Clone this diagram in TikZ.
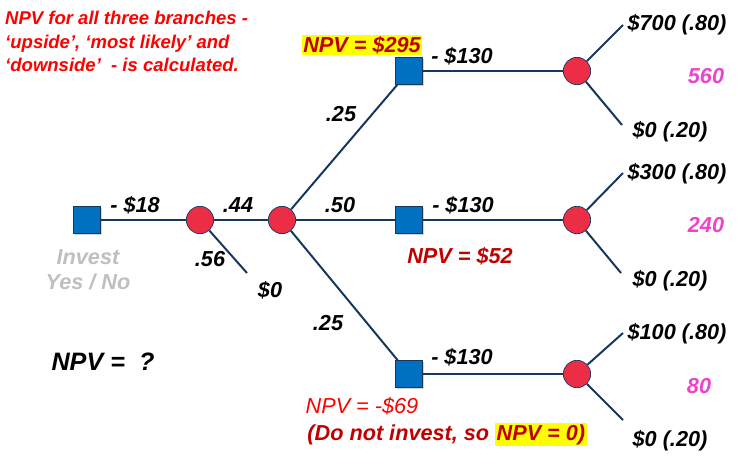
\documentclass[tikz,border=0pt]{standalone}
\usepackage{fontspec}
\setmainfont{Liberation Sans}
\usetikzlibrary{shadows}

\definecolor{navy}{RGB}{23,55,94}
\definecolor{sqblue}{RGB}{0,112,192}
\definecolor{dotred}{RGB}{236,45,70}
\definecolor{npvred}{RGB}{192,0,0}
\definecolor{evpink}{RGB}{238,68,204}
\definecolor{invgray}{RGB}{191,191,191}
\definecolor{hiyellow}{RGB}{255,255,0}

\newcommand\lblfont{\fontsize{18.5}{22}\selectfont\bfseries\itshape}

\tikzset{
  decision/.style={draw=navy, line width=0.6pt, fill=sqblue, minimum size=0.81cm,
    inner sep=0pt, drop shadow={shadow xshift=1.2pt, shadow yshift=-1.2pt, opacity=0.35}},
  chance/.style={circle, draw=navy, line width=0.6pt, fill=dotred, minimum size=0.82cm, inner sep=0pt},
  branch/.style={navy, line width=1.7pt},
  lbl/.style={font=\lblfont, anchor=base, inner sep=0pt},
  npv/.style={lbl, text=npvred},
  ev/.style={lbl, text=evpink}
}

\begin{document}
\begin{tikzpicture}[x=0.03cm, y=-0.03cm]
  \useasboundingbox (0,0) rectangle (756,466);

  % decision and chance nodes
  \node[decision] (invest) at (87,220) {};
  \node[chance] (c1) at (200,220) {};
  \node[chance] (c2) at (282,220) {};
  \node[decision] (dtop) at (409,71) {};
  \node[decision] (dmid) at (409,220) {};
  \node[decision] (dbot) at (409,374) {};
  \node[chance] (ctop) at (577,71) {};
  \node[chance] (cmid) at (577,220) {};
  \node[chance] (cbot) at (577,374) {};

  \coordinate (zero) at (247,273);
  \coordinate (tu) at (623,25);
  \coordinate (tl) at (622,125);
  \coordinate (mu) at (623,173);
  \coordinate (ml) at (621,273);
  \coordinate (bu) at (623,333);
  \coordinate (bl) at (623,420);

  % branches
  \draw[branch] (invest) -- (c1);
  \draw[branch] (c1) -- (c2);
  \draw[branch] (c1) -- (zero);
  \draw[branch] (c2) -- (dtop);
  \draw[branch] (c2) -- (dmid);
  \draw[branch] (c2) -- (dbot);
  \draw[branch] (dtop) -- (ctop);
  \draw[branch] (dmid) -- (cmid);
  \draw[branch] (dbot) -- (cbot);
  \draw[branch] (ctop) -- (tu);
  \draw[branch] (ctop) -- (tl);
  \draw[branch] (cmid) -- (mu);
  \draw[branch] (cmid) -- (ml);
  \draw[branch] (cbot) -- (bu);
  \draw[branch] (cbot) -- (bl);

  % labels on the branches
  \node[lbl] (cost) at (135,212) {- \$18};
  \node[lbl] (p44) at (238,212) {.44};
  \node[lbl] (p56) at (210,266) {.56};
  \node[lbl] (nothing) at (270,297) {\$0};
  \node[lbl] (p25a) at (341,121) {.25};
  \node[lbl] (p50) at (340,212) {.50};
  \node[lbl] (p25b) at (328,330) {.25};
  \node[lbl] (costtop) at (462,63) {- \$130};
  \node[lbl] (costmid) at (463,212) {- \$130};
  \node[lbl] (costbot) at (462,364) {- \$130};

  % outcomes
  \node[lbl] (outtu) at (677,30) {\$700 (.80)};
  \node[lbl] (outtl) at (670,137) {\$0 (.20)};
  \node[lbl] (outmu) at (677,179) {\$300 (.80)};
  \node[lbl] (outml) at (670,286) {\$0 (.20)};
  \node[lbl] (outbu) at (677,339) {\$100 (.80)};
  \node[lbl] (outbl) at (670,446) {\$0 (.20)};
  \node[ev] (evtop) at (706,83) {560};
  \node[ev] (evmid) at (706,232) {240};
  \node[ev] (evbot) at (699,393) {80};

  % npv notes
  \node[npv, fill=hiyellow, inner sep=1.2pt] (npvtop) at (362,52) {NPV = \$295};
  \node[npv] (npvmid) at (460,263) {NPV = \$52};
  \node[lbl, font=\fontsize{18.5}{22}\selectfont\itshape, text=red] (npvbot) at (362,413) {NPV = -\$69};
  \node[npv] (npvzero) at (447,440) {(Do not invest, so {\setlength\fboxsep{1.2pt}\colorbox{hiyellow}{NPV = 0)}}};
  \node[lbl, font=\fontsize{21.5}{25}\selectfont\bfseries\itshape] (npvq) at (103,370) {NPV =\ \ ?};
  \node[lbl, text=invgray, align=center, anchor=north] (choice) at (88,249) {Invest\\Yes / No};
  \node[anchor=north west, inner sep=0pt, align=left, text=red,
    font=\fontsize{15.8}{20}\selectfont\bfseries\itshape] (note) at (5,11)
    {NPV for all three branches -\\‘upside’, ‘most likely’ and\\‘downside’\ \ - is calculated.};
\end{tikzpicture}
\end{document}
